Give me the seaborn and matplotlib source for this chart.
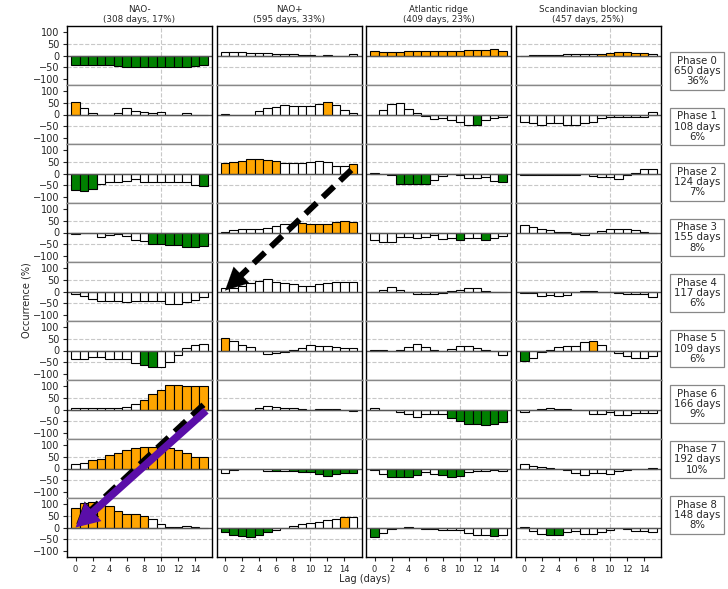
import numpy as np
import pandas as pd
import matplotlib
matplotlib.use("Agg")
import matplotlib.pyplot as plt
import seaborn as sns
from matplotlib.patches import ConnectionPatch

# ---------------- data ----------------
regimes = ["NAO-", "NAO+", "Atlantic ridge", "Scandinavian blocking"]
regime_days = [308, 595, 409, 457]
regime_pct = [17, 33, 23, 25]
phase_days = [650, 108, 124, 155, 117, 109, 166, 192, 148]
phase_pct = [36, 6, 7, 8, 6, 6, 9, 10, 8]
lags = list(range(16))
xtick_vals = [0, 2, 4, 6, 8, 10, 12, 14]
ytick_vals = [-100, -50, 0, 50, 100]

nao_minus = [
    [-40, -40, -40, -42, -42, -45, -48, -48, -47, -47, -48, -48, -48, -50, -45, -42],
    [53, 27, 7, -3, -3, 5, 27, 14, 10, 7, 10, 0, -3, 5, -3, 0],
    [-69, -73, -65, -44, -38, -35, -32, -24, -35, -38, -38, -35, -38, -38, -48, -55],
    [-5, -1, -3, -17, -12, -5, -15, -33, -38, -50, -50, -55, -55, -60, -60, -57],
    [-11, -21, -30, -39, -42, -42, -46, -42, -42, -39, -42, -53, -53, -46, -38, -25],
    [-37, -35, -28, -28, -37, -37, -37, -53, -62, -72, -68, -48, -17, 10, 24, 28],
    [8, 8, 8, 5, 8, 8, 12, 22, 41, 65, 83, 103, 103, 99, 99, 99],
    [19, 24, 37, 42, 57, 67, 78, 86, 89, 93, 89, 86, 78, 65, 50, 49],
    [84, 105, 107, 96, 93, 72, 58, 58, 49, 34, 14, 3, 3, 5, 2, -3],
]
nao_minus_sig = [
    "gggggggggggggggg",
    "owwwwwwwwwwwwwww",
    "gggwwwwwwwwwwwwg",
    "wwwwwwwwwggggggg",
    "wwwwwwwwwwwwwwww",
    "wwwwwwwwggwwwwww",
    "wwwwwwwwoooooooo",
    "wwoooooooooooooo",
    "ooooooooowwwwwww",
]

nao_plus = [
    [14, 14, 14, 11, 9, 9, 8, 5, 5, 3, 2, 0, 1, 0, 0, 7],
    [2, -1, -1, -1, 15, 27, 32, 40, 37, 36, 37, 45, 52, 40, 20, 5],
    [44, 48, 53, 63, 63, 56, 51, 44, 44, 45, 48, 52, 47, 31, 31, 41],
    [2, 10, 13, 14, 15, 18, 27, 36, 38, 40, 37, 37, 37, 43, 48, 45],
    [14, 14, 24, 34, 46, 55, 41, 35, 30, 23, 25, 31, 37, 39, 39, 39],
    [51, 42, 23, 13, -2, -15, -10, -5, 3, 10, 24, 17, 17, 13, 12, 12],
    [-2, -2, -3, 0, 5, 13, 10, 5, 5, 2, -1, 1, 1, 1, -2, -5],
    [-18, -8, 0, 0, -3, -10, -12, -10, -12, -14, -15, -25, -30, -25, -20, -20],
    [-21, -31, -38, -39, -31, -21, -11, -3, 5, 14, 18, 22, 32, 37, 44, 44],
]
nao_plus_sig = [
    "wwwwwwwwwwwwwwww",
    "wwwwwwwwwwwwowww",
    "ooooooowwwwwwwwo",
    "wwwwwwwwwooooooo",
    "wwwwwwwwwwwwwwww",
    "owwwwwwwwwwwwwww",
    "wwwwwwwwwwwwwwww",
    "wwwwwwgwgggggggg",
    "ggggggwwwwwwwwow",
]

atl_ridge = [
    [17, 15, 14, 15, 17, 20, 21, 21, 21, 21, 21, 22, 24, 24, 26, 19],
    [-3, 20, 44, 47, 25, 7, -8, -20, -15, -25, -30, -45, -45, -25, -15, -10],
    [3, 0, -8, -45, -45, -45, -45, -27, -12, 0, -8, -18, -20, -15, -30, -35],
    [-31, -40, -40, -21, -17, -24, -17, -12, -28, -25, -30, -25, -25, -30, -22, -15],
    [0, 8, 17, 5, -3, -12, -12, -12, -5, 3, 5, 13, 13, 3, 0, 0],
    [2, 2, 0, 2, 14, 28, 14, 4, 0, 7, 20, 20, 10, 3, 0, -17],
    [5, 0, -3, -12, -20, -30, -20, -20, -20, -35, -50, -60, -63, -67, -63, -55],
    [-5, -22, -38, -38, -38, -28, -15, -22, -28, -36, -30, -15, -10, -12, -8, -10],
    [-42, -25, -5, -2, 2, 0, -5, -8, -12, -12, -12, -24, -31, -31, -38, -31],
]
atl_ridge_sig = [
    "oooooooooooooooo",
    "wwwwwwwwwwwwgwww",
    "wwwggggwwwwwwwwg",
    "wwwwwwwwwwgwwgww",
    "wwwwwwwwwwwwwwww",
    "wwwwwwwwwwwwwwww",
    "wwwwwwwwwggggggg",
    "wwggggwwgggwwwww",
    "gwwwwwwwwwwwwwgw",
]

scand_block = [
    [0, 1, 2, 3, 4, 6, 5, 5, 6, 8, 10, 13, 13, 12, 10, 8],
    [-30, -37, -45, -37, -37, -45, -45, -37, -30, -15, -12, -12, -12, -12, -10, 11],
    [-8, -8, -5, -5, -8, -8, -5, -3, -12, -15, -15, -22, -8, 3, 20, 20],
    [30, 22, 15, 10, 3, 2, -7, -12, 0, 8, 15, 15, 15, 10, 3, 0],
    [-7, -7, -21, -14, -21, -14, 0, 2, 2, 0, -2, -7, -12, -12, -12, -25],
    [-44, -30, -5, 3, 13, 17, 21, 37, 40, 25, 0, -11, -23, -30, -30, -23],
    [-12, -2, 2, 5, 2, 2, 0, -3, -20, -20, -12, -25, -25, -15, -15, -15],
    [21, 12, 8, 3, 0, -5, -21, -27, -18, -18, -24, -12, -5, 0, 0, 3],
    [3, -14, -28, -30, -30, -20, -14, -27, -27, -21, -12, -3, -7, -14, -14, -21],
]
scand_block_sig = [
    "wwwwwwwwwoooooow",
    "wwwwwwwwwwwwwwww",
    "wwwwwwwwwwwwwwww",
    "wwwwwwwwwwwwwwww",
    "wwwwwwwwwwwwwwww",
    "gwwwwwwwowwwwwww",
    "wwwwwwwwwwwwwwww",
    "wwwwwwwwwwwwwwww",
    "wwwggwwwwwwwwwww",
]

# ---------------- style ----------------
sns.set_style("white")
plt.rcParams["font.family"] = ["DejaVu Sans"]
palette = {"o": "#FFA500", "g": "#008000", "w": "white"}

W, H = 728, 589
fig = plt.figure(figsize=(W / 100, H / 100), dpi=100)

col_left = [67, 216.5, 366, 516]
ax_w = 145
row_top = 26
row_h = 59

all_vals = [nao_minus, nao_plus, atl_ridge, scand_block]
all_sig = [nao_minus_sig, nao_plus_sig, atl_ridge_sig, scand_block_sig]
axes = {}

for c in range(4):
    for r in range(9):
        ax = fig.add_axes([col_left[c] / W, 1 - (row_top + (r + 1) * row_h) / H,
                           ax_w / W, row_h / H])
        axes[(r, c)] = ax
        df = pd.DataFrame({"lag": lags, "val": all_vals[c][r],
                           "sig": list(all_sig[c][r])})
        sns.barplot(data=df, x="lag", y="val", hue="sig", palette=palette,
                    saturation=1, dodge=False, width=1.0, edgecolor="black",
                    linewidth=0.8, errorbar=None, legend=False, ax=ax, order=lags)
        ax.set_xlim(-1, 16)
        ax.set_ylim(-125, 125)
        for yv in (50, -50):
            ax.axhline(yv, color="#c8c8c8", lw=0.8, ls="--", zorder=0)
        ax.axvline(10, color="#c8c8c8", lw=0.8, ls="--", zorder=0)
        ax.axhline(0, color="#555555", lw=1.0, zorder=2.5)
        ax.set_xlabel("")
        ax.set_ylabel("")
        for s in ("left", "right"):
            ax.spines[s].set_color("black")
            ax.spines[s].set_linewidth(1.0)
        for s in ("top", "bottom"):
            ax.spines[s].set_color("#888888")
            ax.spines[s].set_linewidth(1.0)
        if r == 0:
            ax.spines["top"].set_color("black")
            ax.set_title(f"{regimes[c]}\n({regime_days[c]} days, {regime_pct[c]}%)",
                         fontsize=6.3, pad=3, linespacing=1.15)
        if r == 8:
            ax.spines["bottom"].set_color("black")
        ax.set_yticks(ytick_vals)
        if c == 0:
            ax.set_yticklabels([str(v).replace("-", "\u2212") for v in ytick_vals], fontsize=7)
            ax.tick_params(axis="y", left=True, length=3, width=0.8, pad=2.5)
        else:
            ax.set_yticklabels([])
            ax.tick_params(axis="y", left=False, length=0)
        ax.set_xticks(xtick_vals)
        if r == 8:
            ax.set_xticklabels([str(v) for v in xtick_vals], fontsize=6)
            ax.tick_params(axis="x", bottom=True, length=3, width=0.8, pad=2.5)
        else:
            ax.set_xticklabels([])
            ax.tick_params(axis="x", bottom=False, length=0)

fig.text(27 / W, 1 - 300 / H, "Occurrence (%)", rotation=90, fontsize=7,
         ha="center", va="center")
fig.text(365 / W, 1 - 579 / H, "Lag (days)", fontsize=7, ha="center", va="center")

box_centers = [71, 126.5, 182, 237.5, 293, 348.5, 404, 459.5, 515]
for i in range(9):
    fig.text(697 / W, 1 - box_centers[i] / H,
             f"Phase {i}\n{phase_days[i]} days\n{phase_pct[i]}%",
             ha="center", va="center", fontsize=7.3, linespacing=1.05,
             bbox=dict(boxstyle="square,pad=0.35", fc="white", ec="#888888", lw=0.9))


# ---------------- arrows ----------------
def dashed_arrow(axA, xyA, axB, xyB, color, head_px=20):
    pA = axA.transData.transform(xyA)
    pB = axB.transData.transform(xyB)
    L = np.hypot(*(pB - pA))
    pt = 72 / fig.dpi
    shaft = ConnectionPatch(xyA=xyA, coordsA=axA.transData, xyB=xyB, coordsB=axB.transData,
                            arrowstyle="-", lw=4.3, color=color,
                            linestyle=(0, (2.6, 1.4)), capstyle="butt",
                            shrinkA=0, shrinkB=head_px * 0.7 * pt, zorder=10)
    fig.add_artist(shaft)
    head = ConnectionPatch(xyA=xyA, coordsA=axA.transData, xyB=xyB, coordsB=axB.transData,
                           arrowstyle="-|>,head_length=1.5,head_width=0.75",
                           mutation_scale=head_px * pt, lw=0.1, color=color,
                           shrinkA=(L - head_px * 1.2) * pt, shrinkB=0, zorder=10)
    fig.add_artist(head)


dashed_arrow(axes[(2, 1)], (14.8, 15), axes[(4, 1)], (0, 4), "black", head_px=15)
dashed_arrow(axes[(6, 0)], (15, 20), axes[(8, 0)], (0.1, 16), "black", head_px=14)
purple = ConnectionPatch(xyA=(15.3, -5), coordsA=axes[(6, 0)].transData,
                         xyB=(0, 0), coordsB=axes[(8, 0)].transData,
                         arrowstyle="simple,head_length=1.7,head_width=1.8,tail_width=0.55",
                         mutation_scale=10, color="#5a0ea8", lw=0, zorder=11)
fig.add_artist(purple)

fig.savefig("out.png", dpi=100)
